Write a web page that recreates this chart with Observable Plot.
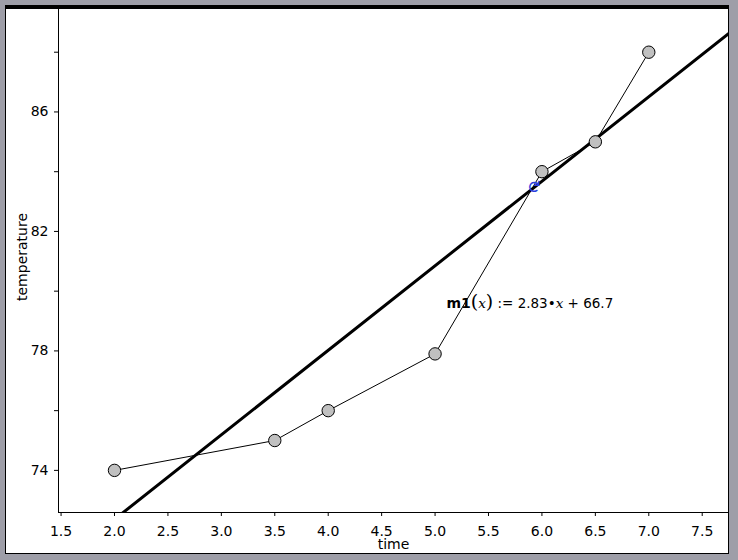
<!DOCTYPE html>
<html>
<head>
<meta charset="utf-8">
<script src="https://cdn.jsdelivr.net/npm/d3@7"></script>
<script src="https://cdn.jsdelivr.net/npm/@observablehq/plot@0.6"></script>
<style>
  html, body { margin: 0; padding: 0; }
  body { width: 738px; height: 560px; background: #9e9ea8; position: relative; overflow: hidden; }
  #frame { position: absolute; left: 5px; top: 5px; width: 724px; height: 549px; box-sizing: border-box;
           background: #fff; border-top: 4px solid #000; border-left: 1px solid #000; border-right: 1px solid #000; border-bottom: 1px solid #000; }
  #chart { position: absolute; left: 0; top: 0; }
</style>
</head>
<body>
<div id="frame"></div>
<div id="chart"></div>
<script>
// ---- data ----
const times = [2.0, 3.5, 4.0, 5.0, 6.0, 6.5, 7.0];
const temperatures = [74, 75, 76, 77.9, 84, 85, 88];
const fitSlope = 2.83;
const fitIntercept = 66.7;
const fitName = "m1";
const xTicks = [1.5, 2.0, 2.5, 3.0, 3.5, 4.0, 4.5, 5.0, 5.5, 6.0, 6.5, 7.0, 7.5];
const yTicks = [74, 76, 78, 80, 82, 84, 86, 88];
const yTickLabels = [74, 78, 82, 86];
const xDomain = [1.476, 7.746];
const yDomain = [72.59, 89.43];
const xLabel = "time";
const yLabel = "temperature";
const labelPos = [{x: 5.106, y: 79.59}];
const cursorPos = [{x: 5.92, y: 83.5}];

const points = times.map((t, i) => ({time: t, temp: temperatures[i]}));
const fitLine = xDomain.map(x => ({time: x, temp: fitSlope * x + fitIntercept}));

const plot = Plot.plot({
  width: 738,
  height: 560,
  marginLeft: 58,
  marginRight: 10,
  marginTop: 9,
  marginBottom: 48,
  style: {background: "transparent", fontFamily: "DejaVu Sans", fontSize: "14px", color: "#000"},
  x: {domain: xDomain},
  y: {domain: yDomain},
  marks: [
    Plot.axisX({ticks: xTicks, tickSize: 4, tickPadding: 10, tickFormat: d => d.toFixed(1), label: null, fontSize: 14}),
    Plot.axisY({ticks: yTicks, tickSize: 4, tickPadding: 6, tickFormat: d => yTickLabels.includes(d) ? String(d) : "", label: null, fontSize: 14}),
    Plot.ruleX([xDomain[0]], {stroke: "#000", strokeWidth: 1}),
    Plot.ruleY([yDomain[0]], {stroke: "#000", strokeWidth: 1}),
    Plot.line(fitLine, {x: "time", y: "temp", stroke: "#000", strokeWidth: 3, clip: true}),
    Plot.line(points, {x: "time", y: "temp", stroke: "#000", strokeWidth: 1}),
    Plot.dot(points, {x: "time", y: "temp", r: 6.2, fill: "#c0c0c0", stroke: "#000", strokeWidth: 1}),
    Plot.text(cursorPos, {x: "x", y: "y", text: () => "↻", fill: "#2a3ee0", fontSize: 17, rotate: 90}),
    Plot.text(labelPos, {x: "x", y: "y", text: () => fitName, textAnchor: "start", lineAnchor: "middle", className: "fitlabel", fontSize: 13.5}),
    Plot.text([xLabel], {frameAnchor: "bottom", dy: 36, text: d => d, fontSize: 14}),
    Plot.text([yLabel], {frameAnchor: "left", textAnchor: "middle", dx: -36, dy: -4, rotate: -90, text: d => d, fontSize: 14})
  ]
});
document.getElementById("chart").appendChild(plot);

// rich-text formatting of the fitted function label
const lab = plot.querySelector(".fitlabel text");
if (lab) {
  const ns = "http://www.w3.org/2000/svg";
  lab.textContent = "";
  const parts = [
    {t: fitName, a: {"font-weight": "bold", "font-size": "14px"}},
    {t: "(", a: {"font-family": "DejaVu Serif", "font-size": "19px", "font-weight": "200"}},
    {t: "x", a: {"font-family": "DejaVu Serif", "font-style": "italic"}},
    {t: ")", a: {"font-family": "DejaVu Serif", "font-size": "19px"}},
    {t: " := " + fitSlope + "•", a: {}},
    {t: "x", a: {"font-family": "DejaVu Serif", "font-style": "italic"}},
    {t: " + " + fitIntercept, a: {}}
  ];
  for (const p of parts) {
    const ts = document.createElementNS(ns, "tspan");
    ts.textContent = p.t;
    for (const [k, v] of Object.entries(p.a)) ts.setAttribute(k, v);
    lab.appendChild(ts);
  }
}
</script>
</body>
</html>
